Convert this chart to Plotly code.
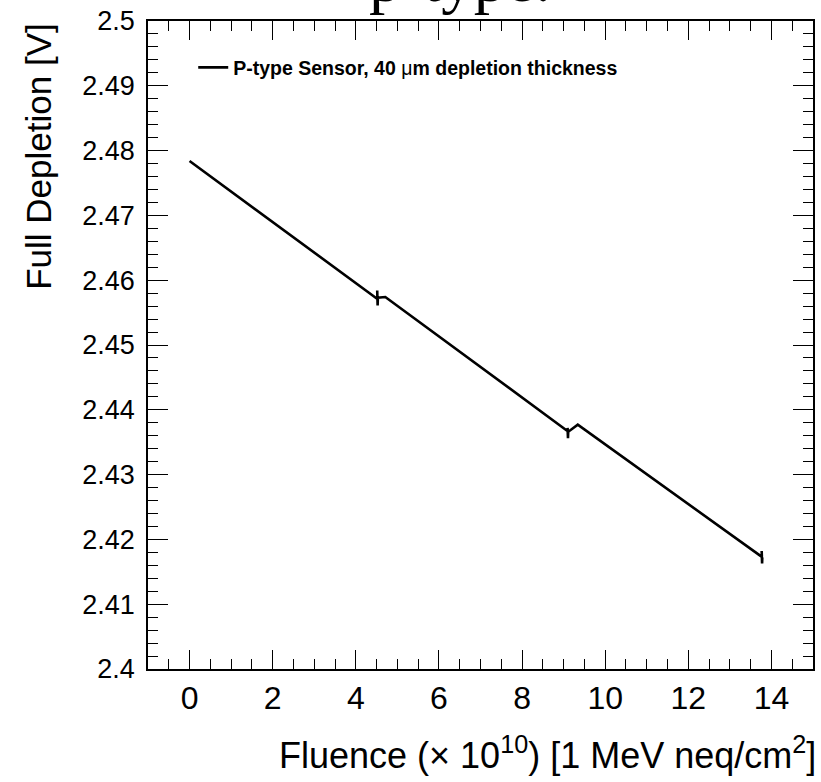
import plotly.graph_objects as go

# Fluence (x 1e10, 1 MeV neq/cm^2) and full depletion voltage [V]
fluence = [0.0, 4.520, 4.515, 4.525, 4.530, 4.710,
           9.100, 9.095, 9.105, 9.110, 9.340,
           13.770, 13.765, 13.775, 13.780]
depletion = [2.4784, 2.4571, 2.4584, 2.4561, 2.4573, 2.4574,
             2.4367, 2.4372, 2.4356, 2.4366, 2.4377,
             2.4173, 2.4182, 2.4163, 2.4172]

x_ticks = [0, 2, 4, 6, 8, 10, 12, 14]
y_ticks = [2.40, 2.41, 2.42, 2.43, 2.44, 2.45, 2.46, 2.47, 2.48, 2.49, 2.50]
y_tick_text = ["2.4", "2.41", "2.42", "2.43", "2.44", "2.45", "2.46",
               "2.47", "2.48", "2.49", "2.5"]

series_name = "<b>P-type Sensor, 40 </b>μ<b>m depletion thickness</b>"

SANS = "Liberation Sans, Arial, Helvetica, sans-serif"
SERIF = "Liberation Serif, Times New Roman, serif"

fig = go.Figure()
fig.add_trace(go.Scatter(
    x=fluence, y=depletion, mode="lines", name=series_name,
    line=dict(color="black", width=2.6),
))

axis_common = dict(
    showgrid=False, zeroline=False,
    showline=True, linecolor="black", linewidth=1.5,
    mirror="allticks", ticks="inside", tickcolor="black", tickwidth=1.3,
)

fig.update_xaxes(
    range=[-1, 15], tickvals=x_ticks, ticklen=19,
    tickfont=dict(family=SANS, size=32, color="black"),
    ticklabelstandoff=0,
    minor=dict(ticks="inside", dtick=0.5, tick0=0, ticklen=10,
               tickcolor="black", tickwidth=1.3),
    **axis_common,
)
fig.update_yaxes(
    range=[2.4, 2.5], tickvals=y_ticks, ticktext=y_tick_text, ticklen=20,
    tickfont=dict(family=SANS, size=27, color="black"),
    ticklabelstandoff=6,
    minor=dict(ticks="inside", dtick=0.002, tick0=2.4, ticklen=10,
               tickcolor="black", tickwidth=1.3),
    **axis_common,
)

# Title (largely above the canvas top) and ROOT-style end-aligned axis titles
fig.add_annotation(
    text="p-type.", xref="paper", yref="paper", x=0.469, y=1.006,
    xanchor="center", yanchor="bottom", showarrow=False,
    font=dict(family=SERIF, size=65, color="black"),
)
fig.add_annotation(
    text="Fluence (× 10<sup>10</sup>) [1 MeV neq/cm<sup>2</sup>]",
    xref="paper", yref="paper", x=1.008, y=-0.13,
    xanchor="right", yanchor="middle", showarrow=False,
    font=dict(family=SANS, size=36, color="black"),
)
fig.add_annotation(
    text="Full Depletion [V]", textangle=-90,
    xref="paper", yref="paper", x=-0.165, y=1.0,
    xanchor="center", yanchor="top", showarrow=False,
    font=dict(family=SANS, size=35, color="black"),
)

fig.update_layout(
    width=821, height=782,
    margin=dict(l=148, r=6, t=21, b=113),
    paper_bgcolor="white", plot_bgcolor="white",
    showlegend=True,
    legend=dict(
        x=0.068, y=0.958, xanchor="left", yanchor="top",
        bgcolor="rgba(0,0,0,0)", borderwidth=0,
        font=dict(family=SANS, size=19.5, color="black"),
        itemwidth=30,
    ),
)

fig.write_html("out.html")
